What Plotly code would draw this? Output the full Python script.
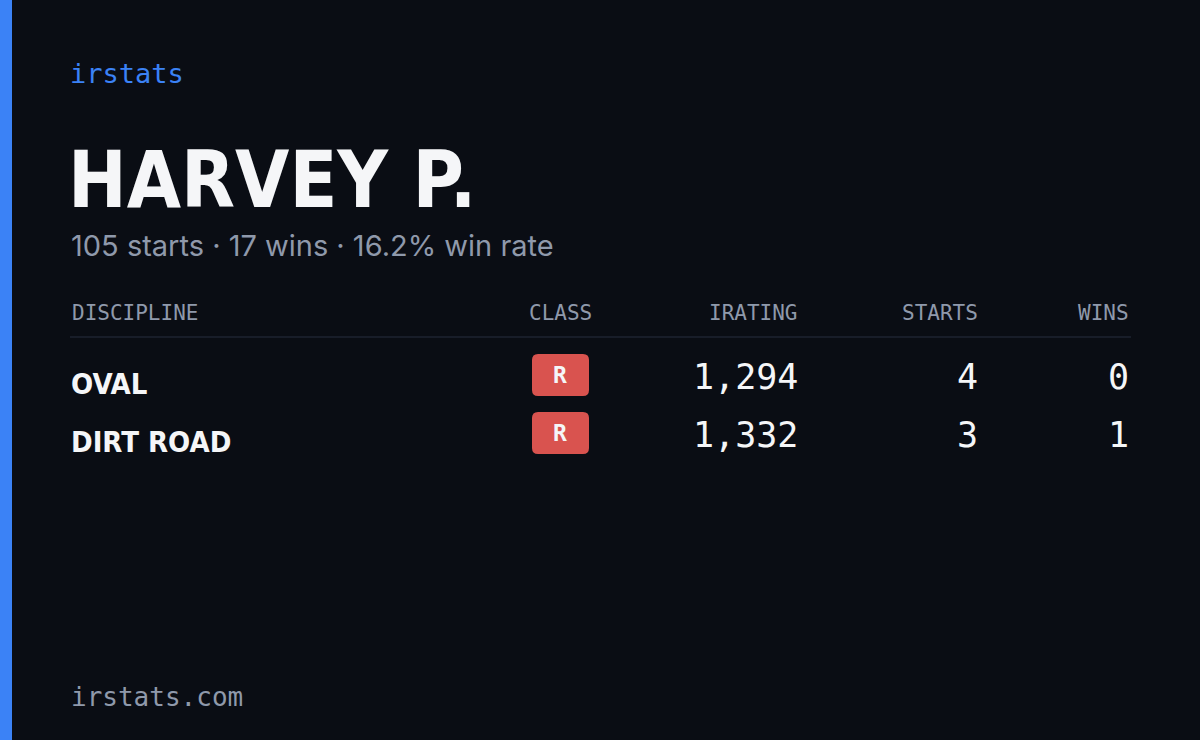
import plotly.graph_objects as go

brand = "irstats"
driver = "HARVEY P."
summary = "105 starts · 17 wins · 16.2% win rate"
headers = ["DISCIPLINE", "CLASS", "IRATING", "STARTS", "WINS"]
disciplines = ["OVAL", "DIRT ROAD"]
classes = ["R", "R"]
iratings = [1294, 1332]
starts = [4, 3]
wins = [0, 1]
footer = "irstats.com"

BG = "#0a0d14"
BLUE = "#3b82f6"
MUTED = "#8f99ab"
WHITE = "#f5f6f8"
RED = "#d9534f"
MONO = "DejaVu Sans Mono"
COND = "DejaVu Sans Condensed, Liberation Sans Narrow, sans-serif"

fig = go.Figure()
ann = []
shapes = []

def txt(x, y, s, size, color, font, anchor="left", bold=False):
    if bold:
        s = "<b>" + s + "</b>"
    ann.append(dict(x=x, y=y, text=s, showarrow=False, xanchor=anchor, yanchor="middle",
                    font=dict(size=size, color=color, family=font)))

# left accent bar
shapes.append(dict(type="rect", x0=0, x1=12, y0=0, y1=740, fillcolor=BLUE, line_width=0, layer="below"))

txt(68, 73, brand, 27, BLUE, MONO)
txt(66, 180, driver, 78, WHITE, COND, bold=True)
txt(69, 245, summary, 29, MUTED, "Inter")

hx = [70, 560, 800, 980, 1131]
anchors = ["left", "center", "right", "right", "right"]
for h, x, a in zip(headers, hx, anchors):
    txt(x, 313, h, 21, MUTED, MONO, a)
shapes.append(dict(type="line", x0=70, x1=1131, y0=337, y1=337, line=dict(color="#1e2330", width=1.5)))

row_y0 = 383
row_h = 58
for i in range(len(disciplines)):
    y = row_y0 + i * row_h
    txt(69, y + 1, disciplines[i], 29, WHITE, COND, bold=True)
    # rounded badge
    x0, x1, y0, y1, r = 532, 589, y - 29, y + 13, 6
    path = (f"M {x0+r},{y0} L {x1-r},{y0} Q {x1},{y0} {x1},{y0+r} L {x1},{y1-r} Q {x1},{y1} {x1-r},{y1} "
            f"L {x0+r},{y1} Q {x0},{y1} {x0},{y1-r} L {x0},{y0+r} Q {x0},{y0} {x0+r},{y0} Z")
    shapes.append(dict(type="path", path=path, fillcolor=RED, line_width=0))
    txt(560, y - 8, classes[i], 23, WHITE, MONO, "center", bold=True)
    txt(800, y - 6, f"{iratings[i]:,}", 35, WHITE, MONO, "right")
    txt(980, y - 6, str(starts[i]), 35, WHITE, MONO, "right")
    txt(1131, y - 6, str(wins[i]), 35, WHITE, MONO, "right")

txt(69, 697, footer, 26, MUTED, MONO)

fig.update_layout(
    width=1200, height=740, paper_bgcolor=BG, plot_bgcolor=BG,
    margin=dict(l=0, r=0, t=0, b=0), showlegend=False,
    xaxis=dict(range=[0, 1200], visible=False),
    yaxis=dict(range=[740, 0], visible=False),
    annotations=ann, shapes=shapes,
)
fig.write_html("out.html", config={"displayModeBar": False},
               post_script="document.body.style.margin='0';document.body.style.background='#0a0d14';")
